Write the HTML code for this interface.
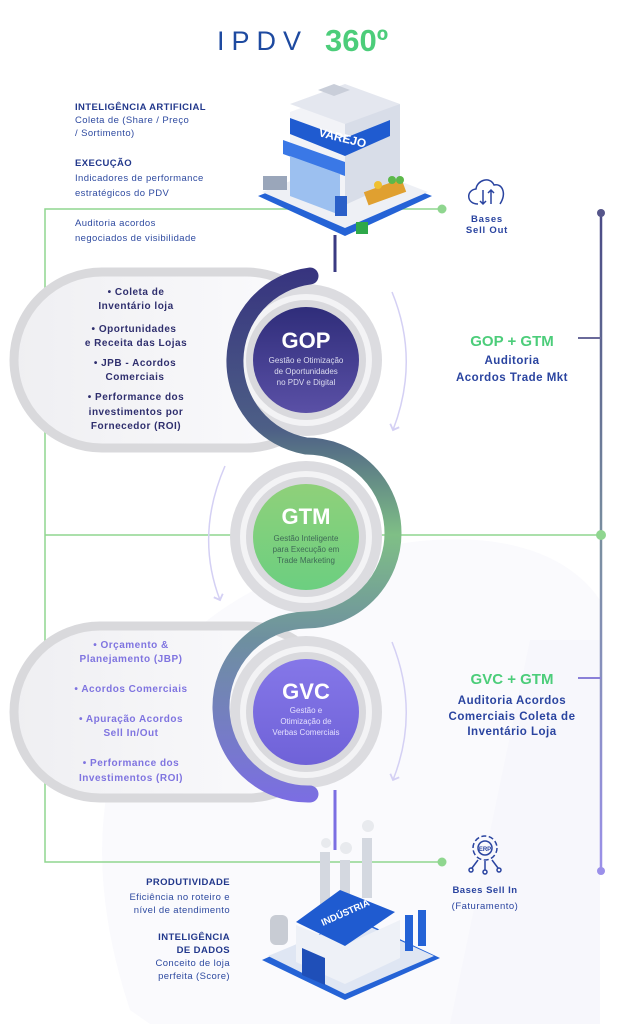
<!DOCTYPE html>
<html><head><meta charset="utf-8"><style>
html,body{margin:0;padding:0;background:#fff;}
svg{display:block;font-family:"Liberation Sans",sans-serif;}
</style></head><body>
<svg width="621" height="1024" viewBox="0 0 621 1024" xmlns="http://www.w3.org/2000/svg">
<defs>
<linearGradient id="band" x1="0" y1="270" x2="0" y2="800" gradientUnits="userSpaceOnUse">
<stop offset="0" stop-color="#37347f"/><stop offset="0.3" stop-color="#4d5f86"/>
<stop offset="0.5" stop-color="#7fbf86"/><stop offset="0.7" stop-color="#6e8fa0"/>
<stop offset="1" stop-color="#7b6ee2"/></linearGradient>
<linearGradient id="vline" x1="0" y1="210" x2="0" y2="875" gradientUnits="userSpaceOnUse">
<stop offset="0" stop-color="#4a4a86"/><stop offset="0.5" stop-color="#7a8fa0"/><stop offset="1" stop-color="#9b90ea"/></linearGradient>
<linearGradient id="gop" x1="0" y1="0" x2="0" y2="1"><stop offset="0" stop-color="#2f2d7a"/><stop offset="1" stop-color="#5a50a6"/></linearGradient>
<linearGradient id="gtm" x1="0" y1="0" x2="0" y2="1"><stop offset="0" stop-color="#8fd07a"/><stop offset="1" stop-color="#6ccf80"/></linearGradient>
<linearGradient id="gvc" x1="0" y1="0" x2="0" y2="1"><stop offset="0" stop-color="#8577e8"/><stop offset="1" stop-color="#6f62d8"/></linearGradient>
<linearGradient id="pill" x1="0" y1="0" x2="1" y2="0"><stop offset="0" stop-color="#efeff2"/><stop offset="1" stop-color="#fcfcfe"/></linearGradient>
<marker id="ah" viewBox="0 0 10 10" refX="5" refY="5" markerWidth="8" markerHeight="8" orient="auto"><path d="M1,1 L5,5 L1,9" fill="none" stroke="#d4d0f4" stroke-width="1.5"/></marker>
</defs>

<!-- faint background shape -->
<path d="M130,1010 C60,800 120,620 330,560 C460,520 560,540 600,600 L600,1024 L150,1024 Z" fill="#fafafd"/>
<path d="M450,1024 L530,640 L600,640 L600,1024 Z" fill="#f7f7fc"/>

<!-- title -->
<text x="308" y="50" text-anchor="end" font-size="27" fill="#1e4aa0" letter-spacing="7">IPDV</text>
<text x="325" y="51" font-size="31" font-weight="bold" fill="#4ccd7a">360º</text>

<!-- green connectors -->
<polyline points="442,209 45,209 45,862 442,862" fill="none" stroke="#8fd68f" stroke-width="1.5"/>
<line x1="45" y1="535" x2="601" y2="535" stroke="#8fd68f" stroke-width="1.5"/>
<circle cx="442" cy="209" r="4.5" fill="#8fd68f"/><circle cx="442" cy="862" r="4.5" fill="#8fd68f"/>
<!-- purple vertical -->
<line x1="601" y1="213" x2="601" y2="871" stroke="url(#vline)" stroke-width="2.5"/>
<circle cx="601" cy="213" r="4" fill="#55558a"/><circle cx="601" cy="535" r="5" fill="#8fd68f"/><circle cx="601" cy="871" r="4" fill="#9b90ea"/>
<line x1="578" y1="338" x2="601" y2="338" stroke="#6a6a9a" stroke-width="2"/>
<line x1="578" y1="678" x2="601" y2="678" stroke="#8a80d8" stroke-width="2"/>

<!-- central vertical lines -->
<line x1="335" y1="235" x2="335" y2="272" stroke="#3a3a82" stroke-width="3"/>
<line x1="335" y1="790" x2="335" y2="850" stroke="#7b6ee2" stroke-width="3"/>

<!-- pills -->
<rect x="14" y="272" width="320" height="176" rx="88" fill="url(#pill)" stroke="#d9d9dc" stroke-width="9"/>
<rect x="14" y="626" width="320" height="172" rx="86" fill="url(#pill)" stroke="#d9d9dc" stroke-width="9"/>

<!-- rings -->
<g>
<circle cx="306" cy="360" r="76" fill="#dcdce0"/><circle cx="306" cy="360" r="66" fill="#f3f3f5"/><circle cx="306" cy="360" r="60" fill="#d9d9dd"/>
<circle cx="306" cy="537" r="76" fill="#dcdce0"/><circle cx="306" cy="537" r="66" fill="#f3f3f5"/><circle cx="306" cy="537" r="60" fill="#d9d9dd"/>
<circle cx="306" cy="712" r="76" fill="#dcdce0"/><circle cx="306" cy="712" r="66" fill="#f3f3f5"/><circle cx="306" cy="712" r="60" fill="#d9d9dd"/>
</g>
<!-- S band -->
<path d="M310,276 A86,86 0 0 0 306,446 A87,87 0 0 1 306,620 A87,87 0 0 0 310,794" fill="none" stroke="url(#band)" stroke-width="17" stroke-linecap="round"/>

<circle cx="306" cy="360" r="53" fill="url(#gop)"/>
<circle cx="306" cy="537" r="53" fill="url(#gtm)"/>
<circle cx="306" cy="712" r="53" fill="url(#gvc)"/>

<g text-anchor="middle" fill="#fff">
<text x="306" y="348" font-size="22" font-weight="bold">GOP</text>
<text x="306" y="363" font-size="8" fill="#dcdcf0">Gestão e Otimização</text>
<text x="306" y="374" font-size="8" fill="#dcdcf0">de Oportunidades</text>
<text x="306" y="385" font-size="8" fill="#dcdcf0">no PDV e Digital</text>
<text x="306" y="524" font-size="22" font-weight="bold">GTM</text>
<text x="306" y="541" font-size="8" fill="#3f6a56">Gestão Inteligente</text>
<text x="306" y="552" font-size="8" fill="#3f6a56">para Execução em</text>
<text x="306" y="563" font-size="8" fill="#3f6a56">Trade Marketing</text>
<text x="306" y="699" font-size="22" font-weight="bold">GVC</text>
<text x="306" y="713" font-size="8" fill="#e4e0ff">Gestão e</text>
<text x="306" y="724" font-size="8" fill="#e4e0ff">Otimização de</text>
<text x="306" y="735" font-size="8" fill="#e4e0ff">Verbas Comerciais</text>
</g>

<!-- arrows -->
<path d="M392,292 Q420,360 393,430" fill="none" stroke="#d4d0f4" stroke-width="1.5" marker-end="url(#ah)"/>
<path d="M225,466 Q195,535 220,600" fill="none" stroke="#d4d0f4" stroke-width="1.5" marker-end="url(#ah)"/>
<path d="M392,642 Q420,712 393,780" fill="none" stroke="#d4d0f4" stroke-width="1.5" marker-end="url(#ah)"/>

<!-- pill texts -->
<g text-anchor="middle" font-size="10" font-weight="bold" fill="#2f2f6e" letter-spacing="0.5">
<text x="136" y="295">• Coleta de</text><text x="136" y="309">Inventário loja</text>
<text x="134" y="332">• Oportunidades</text><text x="136" y="346">e Receita das Lojas</text>
<text x="135" y="366">• JPB - Acordos</text><text x="135" y="380">Comerciais</text>
<text x="136" y="400">• Performance dos</text><text x="136" y="415">investimentos por</text><text x="136" y="429">Fornecedor (ROI)</text>
</g>
<g text-anchor="middle" font-size="10" font-weight="bold" fill="#7f74e0" letter-spacing="0.5">
<text x="131" y="648">• Orçamento &amp;</text><text x="131" y="662">Planejamento (JBP)</text>
<text x="131" y="692">• Acordos Comerciais</text>
<text x="131" y="722">• Apuração Acordos</text><text x="131" y="736">Sell In/Out</text>
<text x="131" y="766">• Performance dos</text><text x="131" y="781">Investimentos (ROI)</text>
</g>

<!-- right texts -->
<g text-anchor="middle" font-weight="bold">
<text x="512" y="346" font-size="15" fill="#4ccd7a">GOP + GTM</text>
<text x="512" y="364" font-size="11.5" fill="#2a44a0" letter-spacing="0.5">Auditoria</text>
<text x="512" y="381" font-size="11.5" fill="#2a44a0" letter-spacing="0.5">Acordos Trade Mkt</text>
<text x="512" y="684" font-size="15" fill="#4ccd7a">GVC + GTM</text>
<text x="512" y="704" font-size="11.5" fill="#2a44a0" letter-spacing="0.5">Auditoria Acordos</text>
<text x="512" y="720" font-size="11.5" fill="#2a44a0" letter-spacing="0.5">Comerciais Coleta de</text>
<text x="512" y="735" font-size="11.5" fill="#2a44a0" letter-spacing="0.5">Inventário Loja</text>
<text x="487" y="222" font-size="9.5" fill="#2a44a0" letter-spacing="0.8">Bases</text>
<text x="487" y="233" font-size="9.5" fill="#2a44a0" letter-spacing="0.8">Sell Out</text>
<text x="485" y="893" font-size="9.5" fill="#2a44a0" letter-spacing="0.5">Bases Sell In</text>
<text x="485" y="909" font-size="9.5" fill="#2a44a0" font-weight="normal" letter-spacing="0.5">(Faturamento)</text>
</g>

<!-- top-left texts -->
<g font-size="9.5" fill="#2e4aa0" letter-spacing="0.4">
<text x="75" y="110" font-weight="bold" fill="#22388c">INTELIGÊNCIA ARTIFICIAL</text>
<text x="75" y="123">Coleta de (Share / Preço</text>
<text x="75" y="136">/ Sortimento)</text>
<text x="75" y="166" font-weight="bold" fill="#22388c">EXECUÇÃO</text>
<text x="75" y="181">Indicadores de performance</text>
<text x="75" y="196"> estratégicos do PDV</text>
<text x="75" y="226">Auditoria acordos</text>
<text x="75" y="241">negociados de visibilidade</text>
</g>
<g font-size="9.5" fill="#2e4aa0" letter-spacing="0.4" text-anchor="end">
<text x="230" y="885" font-weight="bold" fill="#22388c">PRODUTIVIDADE</text>
<text x="230" y="900">Eficiência no roteiro e</text>
<text x="230" y="913">nível de atendimento</text>
<text x="230" y="940" font-weight="bold" fill="#22388c">INTELIGÊNCIA</text>
<text x="230" y="953" font-weight="bold" fill="#22388c">DE DADOS</text>
<text x="230" y="966">Conceito de loja</text>
<text x="230" y="979">perfeita (Score)</text>
</g>

<!-- cloud icon -->
<g fill="none" stroke="#2a44a0" stroke-width="1.5">
<path d="M478,204 C466,204 466,190 476,189 C477,180 490,176 494,185 C502,183 507,193 500,204"/>
<path d="M483,190 L483,204 M480,201 L483,204 L486,201 M491,204 L491,190 M488,193 L491,190 L494,193"/>
</g>
<!-- ERP gear -->
<g fill="none" stroke="#2a44a0" stroke-width="1.5">
<circle cx="485" cy="848" r="12" stroke-dasharray="5 2.5"/><circle cx="485" cy="848" r="7"/>
<path d="M478,860 L472,868 M485,861 L485,870 M492,860 L498,868"/>
<circle cx="471" cy="870" r="2"/><circle cx="485" cy="872" r="2"/><circle cx="499" cy="870" r="2"/>
</g>
<text x="485" y="851" font-size="6" font-weight="bold" fill="#2a44a0" text-anchor="middle">ERP</text>

<!-- store -->
<g>
<path d="M258,196 L345,162 L432,196 L345,236 Z" fill="#2563d6"/>
<path d="M262,192 L345,160 L428,192 L345,228 Z" fill="#eef0f5"/>
<path d="M290,112 L345,92 L400,112 L400,180 L345,205 L290,180 Z" fill="#f2f3f7"/>
<path d="M345,120 L400,104 L400,180 L345,205 Z" fill="#d8dde8"/>
<path d="M290,104 L345,84 L400,104 L345,124 Z" fill="#e4e7ef"/>
<path d="M318,90 L334,84 L350,90 L334,96 Z" fill="#c9ced9"/>
<path d="M290,118 L345,138 L390,120 L390,136 L345,156 L290,134 Z" fill="#1f5bd0"/>
<text x="318" y="136" font-size="12" font-weight="bold" fill="#fff" transform="rotate(14 318 136)">VAREJO</text>
<path d="M283,140 L345,162 L345,176 L283,154 Z" fill="#3a78e6"/>
<path d="M290,156 L340,174 L340,215 L290,196 Z" fill="#9cc0f0"/>
<rect x="365" y="185" width="40" height="14" fill="#e0a030" transform="rotate(-20 385 192)"/>
<circle cx="378" cy="185" r="4" fill="#f0c030"/><circle cx="392" cy="180" r="4" fill="#5cb84a"/><circle cx="400" cy="180" r="4" fill="#5cb84a"/>
<rect x="335" y="196" width="12" height="20" fill="#2a5fc8"/>
<rect x="356" y="222" width="12" height="12" fill="#2ea84a"/>
<rect x="263" y="176" width="24" height="14" fill="#9aa6ba"/>
</g>

<!-- factory -->
<g>
<path d="M262,960 L355,918 L440,958 L345,1000 Z" fill="#2563d6"/>
<path d="M268,956 L355,920 L434,956 L345,994 Z" fill="#dfe6f3"/>
<rect x="320" y="852" width="10" height="70" fill="#d4d8e0"/>
<rect x="340" y="860" width="10" height="64" fill="#d4d8e0"/>
<rect x="362" y="838" width="10" height="60" fill="#d4d8e0"/>
<circle cx="368" cy="826" r="6" fill="#e8eaee"/><circle cx="346" cy="848" r="6" fill="#e8eaee"/><circle cx="326" cy="843" r="5" fill="#e8eaee"/>
<path d="M296,925 L345,945 L400,920 L400,958 L345,984 L296,962 Z" fill="#eef1f7"/>
<path d="M296,922 L340,890 L395,912 L345,946 Z" fill="#1f5bd0"/>
<text x="323" y="926" font-size="9.5" font-weight="bold" fill="#fff" transform="rotate(-24 323 926)">INDÚSTRIA</text>
<path d="M302,948 L325,958 L325,985 L302,975 Z" fill="#1f4fb8"/>
<rect x="405" y="915" width="8" height="36" fill="#2563d6"/><rect x="418" y="910" width="8" height="36" fill="#2563d6"/>
<rect x="270" y="915" width="18" height="30" rx="6" fill="#c8ccd4"/>
</g>
</svg>
</body></html>
